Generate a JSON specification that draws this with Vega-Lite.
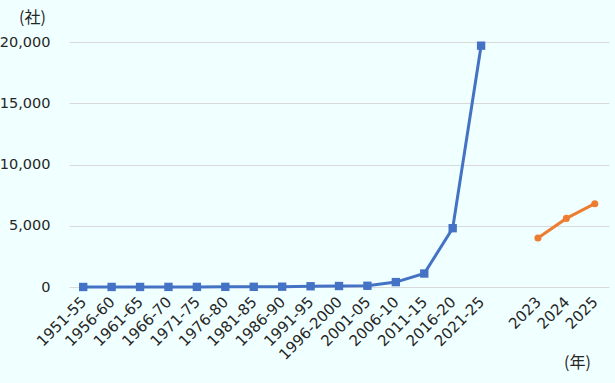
{
  "$schema": "https://vega.github.io/schema/vega-lite/v6.json",
  "autosize": {"type": "none"},
  "width": 540,
  "height": 245,
  "padding": {"left": 69, "top": 42, "right": 6, "bottom": 96},
  "background": "#F0FFFF",
  "config": {
    "view": {"stroke": null},
    "font": "DejaVu Sans",
    "axis": {"labelFont": "DejaVu Sans", "titleFont": "Noto Sans CJK JP", "labelColor": "#262626", "titleColor": "#262626"}
  },
  "data": {
    "values": [
      {"period": "1951-55", "series": "A", "count": 2},
      {"period": "1956-60", "series": "A", "count": 3},
      {"period": "1961-65", "series": "A", "count": 5},
      {"period": "1966-70", "series": "A", "count": 8},
      {"period": "1971-75", "series": "A", "count": 10},
      {"period": "1976-80", "series": "A", "count": 12},
      {"period": "1981-85", "series": "A", "count": 15},
      {"period": "1986-90", "series": "A", "count": 25},
      {"period": "1991-95", "series": "A", "count": 60},
      {"period": "1996-2000", "series": "A", "count": 80},
      {"period": "2001-05", "series": "A", "count": 100},
      {"period": "2006-10", "series": "A", "count": 400},
      {"period": "2011-15", "series": "A", "count": 1100},
      {"period": "2016-20", "series": "A", "count": 4800},
      {"period": "2021-25", "series": "A", "count": 19700},
      {"period": "2023", "series": "B", "count": 4000},
      {"period": "2024", "series": "B", "count": 5600},
      {"period": "2025", "series": "B", "count": 6800}
    ]
  },
  "encoding": {
    "x": {
      "field": "period",
      "type": "nominal",
      "scale": {
        "type": "point",
        "padding": 0.5,
        "domain": ["1951-55","1956-60","1961-65","1966-70","1971-75","1976-80","1981-85","1986-90","1991-95","1996-2000","2001-05","2006-10","2011-15","2016-20","2021-25"," ","2023","2024","2025"]
      },
      "axis": {
        "title": "(年)",
        "titleAngle": 0,
        "titleX": 508,
        "titleY": 75,
        "titleAlign": "center",
        "titleBaseline": "middle",
        "titleFontSize": 16,
        "titleFontWeight": "normal",
        "labelAngle": -45,
        "labelAlign": "right",
        "labelBaseline": "middle",
        "labelFontSize": 15,
        "labelPadding": 12,
        "ticks": false,
        "domain": false,
        "grid": false
      }
    },
    "y": {
      "field": "count",
      "type": "quantitative",
      "scale": {"domain": [0, 20000], "nice": false},
      "axis": {
        "title": "(社)",
        "titleAngle": 0,
        "titleX": -37,
        "titleY": -25,
        "titleAlign": "center",
        "titleBaseline": "middle",
        "titleFontSize": 16,
        "titleFontWeight": "normal",
        "values": [0, 5000, 10000, 15000, 20000],
        "format": ",d",
        "labelFontSize": 14.5,
        "labelPadding": 19,
        "ticks": false,
        "domain": false,
        "gridColor": "#D9D9D9",
        "gridWidth": 1
      }
    },
    "color": {
      "field": "series",
      "type": "nominal",
      "scale": {"domain": ["A", "B"], "range": ["#4472C4", "#ED7D31"]},
      "legend": null
    }
  },
  "layer": [
    {"mark": {"type": "line", "strokeWidth": 3}},
    {
      "mark": {"type": "point", "filled": true, "opacity": 1},
      "encoding": {
        "shape": {"field": "series", "type": "nominal", "scale": {"domain": ["A", "B"], "range": ["square", "circle"]}, "legend": null},
        "size": {"field": "series", "type": "nominal", "scale": {"domain": ["A", "B"], "range": [70, 50]}, "legend": null}
      }
    }
  ]
}
